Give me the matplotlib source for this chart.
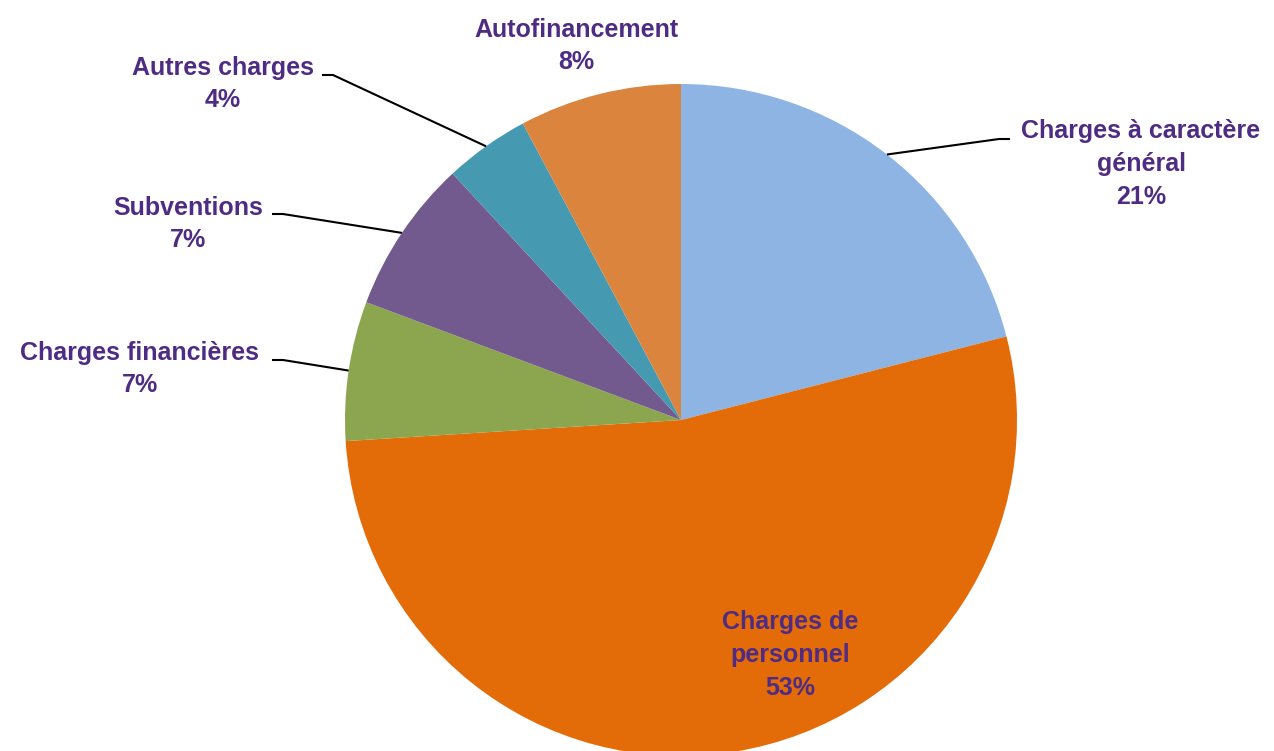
import numpy as np
import matplotlib.pyplot as plt
from matplotlib import font_manager

# données
labels = ["Charges à caractère\ngénéral", "Charges de\npersonnel", "Charges financières",
          "Subventions", "Autres charges", "Autofinancement"]
values = [21.0, 53.0, 6.7, 7.4, 4.1, 7.8]
pct_labels = ["21%", "53%", "7%", "7%", "4%", "8%"]
colors = ["#8EB4E3", "#E36C09", "#8BA64E", "#725A8E", "#4599B0", "#DA843E"]

names = {f.name for f in font_manager.fontManager.ttflist}
fam = "Liberation Sans Narrow" if "Liberation Sans Narrow" in names else "Liberation Sans"
plt.rcParams["font.family"] = [fam, "DejaVu Sans"]

W, H = 1274, 751
fig = plt.figure(figsize=(W / 100, H / 100), dpi=100)
ax = fig.add_axes([0, 0, 1, 1])

cx, cy, r = 681, H - 420, 336
wedges, _ = ax.pie(values, colors=colors, startangle=90, counterclock=False,
                   center=(cx, cy), radius=r, wedgeprops=dict(linewidth=0))
ax.set_xlim(0, W)
ax.set_ylim(0, H)
ax.set_aspect("equal")
ax.axis("off")

txt_col = "#4F2C83"
# position du texte (pixels, origine en haut), début de la ligne de rappel (ou None)
label_pos = [
    ((1141, 164), (1010, 139)),
    ((790, 655), None),
    ((140, 369), (272, 360)),
    ((188, 224), (272, 214)),
    ((223, 84), (322, 75)),
    ((576, 46), None),
]

for w, lab, pct, (tp, lp) in zip(wedges, labels, pct_labels, label_pos):
    tx, ty = tp
    ax.text(tx, H - ty, lab + "\n" + pct, ha="center", va="center", fontsize=18,
            fontweight="bold", color=txt_col, linespacing=1.45)
    if lp is not None:
        ang = np.deg2rad((w.theta1 + w.theta2) / 2)
        ex, ey = cx + r * np.cos(ang), cy + r * np.sin(ang)
        sx, sy = lp
        dx = 11 if ex > sx else -11
        ax.plot([sx, sx + dx, ex], [H - sy, H - sy, ey], color="black", lw=1.5,
                solid_capstyle="butt")

fig.savefig("out.png", dpi=100, facecolor="white")
